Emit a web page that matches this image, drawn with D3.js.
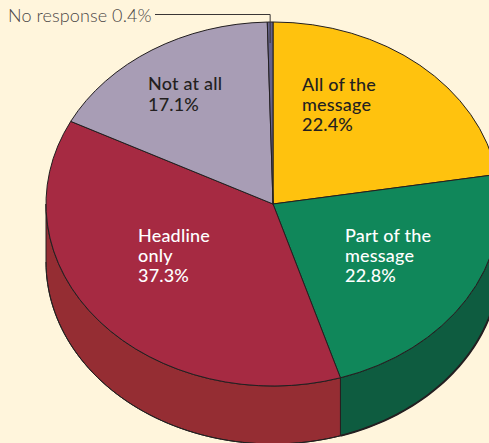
<!DOCTYPE html>
<html><head><meta charset="utf-8">
<script src="https://cdn.jsdelivr.net/npm/d3@7"></script>
<style>
html,body{margin:0;padding:0;background:#FFF5DC;overflow:hidden}
svg{display:block}
text{font-family:Lato,"Open Sans",sans-serif;font-size:18px;font-weight:500;letter-spacing:.2px}
</style></head><body>
<script>
const categories=["All of the message","Part of the message","Headline only","Not at all","No response"];
const values=[22.4,22.8,37.3,17.1,0.4];
const topColors=["#FFC20E","#10875A","#A62A42","#A89DB5","#65628A"];
const wallColors=["#FFC20E","#0E5C40","#952D33","#A89DB5","#65628A"];
const labelLines=[["All of the","message","22.4%"],["Part of the","message","22.8%"],["Headline","only","37.3%"],["Not at all","17.1%"],[]];
const labelColors=["#231F20","#fff","#fff","#231F20","#231F20"];
const labelPos=[[302,91],[345,242],[138,242],[148,90],[0,0]];
const labelSteps=[20,20,20,21,0];
const W=489,H=443,cx=273,cy=204,rx=227,ry=182,depth=58;
const svg=d3.select("body").append("svg").attr("width",W).attr("height",H);
svg.append("rect").attr("width",W).attr("height",H).attr("fill","#FFF5DC");
const arcs=d3.pie().sort(null)(values);
const px=a=>cx+rx*Math.sin(a), py=a=>cy-ry*Math.cos(a);
const ell=d3.line();
arcs.forEach((d,i)=>{
  const a0=Math.max(d.startAngle,Math.PI/2), a1=Math.min(d.endAngle,Math.PI*1.5);
  if(a1<=a0) return;
  const as=d3.range(0,61).map(k=>a0+(a1-a0)*k/60);
  const pts=as.map(a=>[px(a),py(a)]).concat(as.slice().reverse().map(a=>[px(a),py(a)+depth]));
  svg.append("path").attr("d",ell(pts)+"Z").attr("fill",wallColors[i]).attr("stroke","#231F20").attr("stroke-width",1).attr("stroke-linejoin","round");
  const bottom=as.map(a=>[px(a),py(a)+depth]);
  svg.append("path").attr("d",ell(bottom)).attr("fill","none").attr("stroke","#231F20").attr("stroke-width",i==1?2:1);
});
const g=svg.append("g").attr("transform",`translate(${cx},${cy}) scale(1,${ry/rx})`);
const arc=d3.arc().innerRadius(0).outerRadius(rx);
g.selectAll("path").data(arcs).join("path").attr("d",arc)
 .attr("fill",(d,i)=>topColors[i]).attr("stroke","#231F20").attr("stroke-width",1)
 .attr("vector-effect","non-scaling-stroke").attr("stroke-linejoin","round");
labelLines.forEach((lines,i)=>{
  lines.forEach((t,j)=>{
    svg.append("text").attr("x",labelPos[i][0]).attr("y",labelPos[i][1]+j*labelSteps[i]).attr("fill",labelColors[i]).text(t);
  });
});
svg.append("text").attr("x",8).attr("y",22).attr("fill","#4A4646").style("font-weight",300).style("font-size","18px").style("letter-spacing",".1px").text("No response 0.4%");
const mid=(arcs[4].startAngle+arcs[4].endAngle)/2;
svg.append("path").attr("d",d3.line()([[155,14.5],[px(mid),14.5],[px(mid),43]])).attr("fill","none").attr("stroke","#3a3636").attr("stroke-width",1);
</script></body></html>
